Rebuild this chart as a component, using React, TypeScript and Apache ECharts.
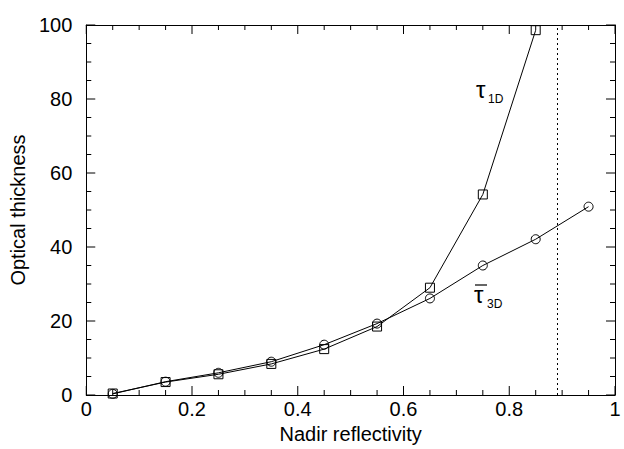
import React, { useEffect, useRef } from "react";
import * as echarts from "echarts";

const reflectivity1D = [0.05, 0.15, 0.25, 0.35, 0.45, 0.55, 0.65, 0.75, 0.85];
const tau1D = [0.4, 3.5, 5.6, 8.4, 12.4, 18.5, 29.0, 54.2, 98.6];
const reflectivity3D = [0.05, 0.15, 0.25, 0.35, 0.45, 0.55, 0.65, 0.75, 0.85, 0.95];
const tau3D = [0.3, 3.6, 6.0, 9.0, 13.6, 19.3, 26.1, 35.0, 42.1, 50.9];
const limitReflectivity = 0.888;
const xMajorTicks = [0, 0.2, 0.4, 0.6, 0.8, 1];
const xMinorTicks = [0.05, 0.1, 0.15, 0.25, 0.3, 0.35, 0.45, 0.5, 0.55, 0.65, 0.7, 0.75, 0.85, 0.9, 0.95];
const yMajorTicks = [0, 20, 40, 60, 80, 100];
const yMinorTicks = [5, 10, 15, 25, 30, 35, 45, 50, 55, 65, 70, 75, 85, 90, 95];
const xTitle = "Nadir reflectivity";
const yTitle = "Optical thickness";

const FONT = "'Liberation Sans', Arial, Helvetica, sans-serif";
const GRID = { left: 86, right: 9, top: 25, bottom: 54 };
const W = 624;
const H = 449;
const MAJOR_LEN = 9;
const MINOR_LEN = 5;
const X_MIN = 0, X_MAX = 1, Y_MIN = 0, Y_MAX = 100;

export default function App() {
  const ref = useRef<HTMLDivElement>(null);
  useEffect(() => {
    if (!ref.current) return;
    const chart = echarts.init(ref.current, null, { renderer: "svg" });
    const line = { show: true, onZero: false, lineStyle: { color: "#000", width: 1 } };
    const noTicks = { axisTick: { show: false }, minorTick: { show: false }, splitLine: { show: false }, minorSplitLine: { show: false } };
    const labelStyle = { color: "#000", fontSize: 20, fontFamily: FONT };

    const labels: any[] = [
      { type: "text", left: 476, top: 77, style: { text: "τ", fontSize: 24, fontFamily: FONT, fill: "#000" } },
      { type: "text", left: 488, top: 93, style: { text: "1D", fontSize: 12, fontFamily: FONT, fill: "#000" } },
      { type: "line", shape: { x1: 475, y1: 285, x2: 487, y2: 285 }, style: { stroke: "#000", lineWidth: 1.2 } },
      { type: "text", left: 474, top: 282, style: { text: "τ", fontSize: 24, fontFamily: FONT, fill: "#000" } },
      { type: "text", left: 487, top: 298, style: { text: "3D", fontSize: 12, fontFamily: FONT, fill: "#000" } },
    ];

    chart.setOption({
      animation: false,
      backgroundColor: "#fff",
      grid: GRID,
      xAxis: [
        {
          type: "value", min: X_MIN, max: X_MAX, interval: 0.2, position: "bottom",
          axisLine: line, ...noTicks,
          axisLabel: { ...labelStyle, margin: 4, formatter: (v: number) => String(Math.round(v * 10) / 10) },
          name: xTitle, nameLocation: "middle", nameGap: 25,
          nameTextStyle: { color: "#000", fontSize: 20, fontFamily: FONT },
        },
        { type: "value", min: X_MIN, max: X_MAX, interval: 0.2, position: "top", axisLine: line, ...noTicks, axisLabel: { show: false } },
      ],
      yAxis: [
        {
          type: "value", min: Y_MIN, max: Y_MAX, interval: 20, position: "left",
          axisLine: line, ...noTicks,
          axisLabel: { ...labelStyle, margin: 14 },
          name: yTitle, nameLocation: "middle", nameGap: 46,
          nameTextStyle: { color: "#000", fontSize: 20, fontFamily: FONT },
        },
        { type: "value", min: Y_MIN, max: Y_MAX, interval: 20, position: "right", axisLine: line, ...noTicks, axisLabel: { show: false } },
      ],
      series: [
        {
          type: "line",
          data: reflectivity1D.map((x, i) => [x, tau1D[i]]),
          symbol: "rect", symbolSize: 9,
          lineStyle: { color: "#000", width: 1 },
          itemStyle: { color: "rgba(0,0,0,0)", borderColor: "#000", borderWidth: 1 },
          markLine: {
            silent: true, symbol: "none", label: { show: false },
            lineStyle: { color: "#000", width: 1, type: [2, 3] },
            data: [{ xAxis: limitReflectivity }],
          },
          z: 3,
        },
        {
          type: "line",
          data: reflectivity3D.map((x, i) => [x, tau3D[i]]),
          symbol: "circle", symbolSize: 9,
          lineStyle: { color: "#000", width: 1 },
          itemStyle: { color: "rgba(0,0,0,0)", borderColor: "#000", borderWidth: 1 },
          z: 3,
        },
      ],
      graphic: labels,
    });

    // inward ticks on all four sides, positioned through the grid's own scales
    const toPx = (v: number[]) => chart.convertToPixel({ gridIndex: 0 }, v) as number[];
    const ticks: any[] = [];
    const seg = (a: number[], dx: number, dy: number) => {
      ticks.push({
        type: "line", silent: true, z: 100,
        shape: { x1: a[0], y1: a[1], x2: a[0] + dx, y2: a[1] + dy },
        style: { stroke: "#000", lineWidth: 1 },
      });
    };
    const addX = (v: number, len: number) => { seg(toPx([v, Y_MIN]), 0, -len); seg(toPx([v, Y_MAX]), 0, len); };
    const addY = (v: number, len: number) => { seg(toPx([X_MIN, v]), len, 0); seg(toPx([X_MAX, v]), -len, 0); };
    xMajorTicks.forEach((v) => addX(v, MAJOR_LEN));
    xMinorTicks.forEach((v) => addX(v, MINOR_LEN));
    yMajorTicks.forEach((v) => addY(v, MAJOR_LEN));
    yMinorTicks.forEach((v) => addY(v, MINOR_LEN));
    chart.setOption({ graphic: [...labels, ...ticks] });

    return () => chart.dispose();
  }, []);
  return <div ref={ref} style={{ position: "fixed", left: 0, top: 0, width: W, height: H }} />;
}
